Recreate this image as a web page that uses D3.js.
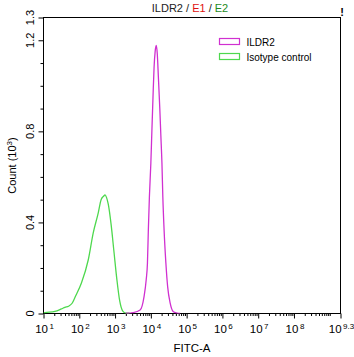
<!DOCTYPE html>
<html>
<head>
<meta charset="utf-8">
<script src="https://cdn.jsdelivr.net/npm/d3@7"></script>
<style>
body { margin: 0; background: #fff; }
svg { font-family: "Liberation Sans", Arial, sans-serif; }
</style>
</head>
<body>
<div id="chart"></div>
<script>
// log10(FITC-A) positions and counts (x10^3)
var isoLog   = [1.0, 1.04, 1.32, 1.5, 1.6, 1.7, 1.8, 1.9, 2.06, 2.25, 2.39, 2.53, 2.61, 2.68, 2.72, 2.76, 2.81, 2.89, 2.97, 3.05, 3.13, 3.21, 3.3, 3.4]
var isoCount = [0.003, 0.004, 0.009, 0.02, 0.027, 0.032, 0.045, 0.078, 0.134, 0.235, 0.354, 0.442, 0.5, 0.515, 0.521, 0.51, 0.48, 0.39, 0.27, 0.15, 0.055, 0.012, 0.002, 0.001]

var ildrLog   = [3.3, 3.51, 3.7, 3.81, 3.87, 3.905, 3.93, 3.96, 4.0, 4.03, 4.06, 4.09, 4.12, 4.15, 4.18, 4.21, 4.25, 4.28, 4.31, 4.335, 4.37, 4.42, 4.47, 4.54, 4.63, 4.73, 4.82]
var ildrCount = [0.001, 0.004, 0.015, 0.074, 0.148, 0.222, 0.367, 0.515, 0.66, 0.807, 0.95, 1.08, 1.15, 1.177, 1.14, 1.04, 0.9, 0.78, 0.66, 0.512, 0.367, 0.222, 0.117, 0.046, 0.008, 0.002, 0.0]

var seriesNames  = ["ILDR2", "Isotype control"]
var seriesColors = ["#d030d0", "#4ed84e"]

var yMajor = [0, 0.4, 0.8, 1.2, 1.3]
var yMinor = [0.1, 0.2, 0.3, 0.5, 0.6, 0.7, 0.9, 1.0, 1.1]
var xMajorExp = [1, 2, 3, 4, 5, 6, 7, 8, 9.3]

var chartW = 354, chartH = 357
var pLeft = 43.5, pRight = 340.5, pTop = 17.5, pBottom = 313.5

var svg = d3.select('#chart')
    .append('svg')
    .attr('width', chartW)
    .attr('height', chartH)

var x = d3.scaleLog()
    .domain([10, Math.pow(10, 9.3)])
    .range([pLeft, pRight])

var y = d3.scaleLinear()
    .domain([0, 1.3])
    .range([pBottom, pTop])

// minor x ticks 2..9 per decade (plus 10^9, which has no label)
var xMinor = []
for (var dec = 1; dec <= 9; dec++) {
    for (var k = 2; k <= 9; k++) {
        var v = k * Math.pow(10, dec)
        if (v < Math.pow(10, 9.3)) xMinor.push(v)
    }
}
xMinor.push(1e9)

// frame
svg.append('rect')
    .attr('x', pLeft).attr('y', pTop)
    .attr('width', pRight - pLeft).attr('height', pBottom - pTop)
    .attr('fill', 'none').attr('stroke', '#000').attr('stroke-width', 1)

// x axis
var xMajorG = svg.append('g')
    .attr('transform', 'translate(0,' + pBottom + ')')
    .call(d3.axisBottom(x)
        .tickValues(xMajorExp.map(function(e){ return Math.pow(10, e) }))
        .tickSize(5)
        .tickFormat(function(){ return '' }))
var xMinorG = svg.append('g')
    .attr('transform', 'translate(0,' + pBottom + ')')
    .call(d3.axisBottom(x)
        .tickValues(xMinor)
        .tickSize(2.5)
        .tickFormat(function(){ return '' }))
xMajorG.select('.domain').remove()
xMinorG.select('.domain').remove()

var xLabels = svg.append('g')
    .selectAll('text')
    .data(xMajorExp)
    .enter()
    .append('text')
    .attr('x', function(d){ return x(Math.pow(10, d)) + 1 })
    .attr('y', 333)
    .attr('text-anchor', 'middle')
    .attr('font-size', 11.5)
xLabels.append('tspan').text('10')
xLabels.append('tspan')
    .attr('dx', 1.5)
    .attr('dy', -4)
    .attr('font-size', 8)
    .text(function(d){ return d })

// y axis
var yMajorG = svg.append('g')
    .attr('transform', 'translate(' + pLeft + ',0)')
    .call(d3.axisLeft(y).tickValues(yMajor).tickSize(5).tickFormat(function(){ return '' }))
var yMinorG = svg.append('g')
    .attr('transform', 'translate(' + pLeft + ',0)')
    .call(d3.axisLeft(y).tickValues(yMinor).tickSize(3).tickFormat(function(){ return '' }))
yMajorG.select('.domain').remove()
yMinorG.select('.domain').remove()

svg.append('g')
    .selectAll('text')
    .data(yMajor)
    .enter()
    .append('text')
    .attr('transform', function(d){ return 'translate(34,' + y(d) + ') rotate(-90)' })
    .attr('text-anchor', 'middle')
    .attr('font-size', 11)
    .text(function(d){ return String(d) })

// axis titles
svg.append('text')
    .attr('x', 192).attr('y', 352)
    .attr('text-anchor', 'middle')
    .attr('font-size', 11.5)
    .text('FITC-A')

var yTitle = svg.append('text')
    .attr('transform', 'translate(16,' + ((pTop + pBottom) / 2) + ') rotate(-90)')
    .attr('text-anchor', 'middle')
    .attr('font-size', 11)
yTitle.append('tspan').text('Count (10')
yTitle.append('tspan').attr('dy', -4).attr('font-size', 8).text('3')
yTitle.append('tspan').attr('dy', 4).text(')')

// title
var title = svg.append('text')
    .attr('x', 190).attr('y', 12)
    .attr('text-anchor', 'middle')
    .attr('font-size', 11)
title.append('tspan').attr('fill', '#222').text('ILDR2')
title.append('tspan').attr('fill', '#222').text(' / ')
title.append('tspan').attr('fill', '#e01010').text('E1')
title.append('tspan').attr('fill', '#222').text(' / ')
title.append('tspan').attr('fill', '#1e8c1e').text('E2')

svg.append('text')
    .attr('x', 342).attr('y', 16)
    .attr('text-anchor', 'middle')
    .attr('font-size', 11)
    .attr('font-weight', 'bold')
    .text('!')

// curves
svg.append('clipPath').attr('id', 'plotClip')
    .append('rect')
    .attr('x', pLeft).attr('y', pTop - 2)
    .attr('width', pRight - pLeft).attr('height', pBottom - pTop + 2)

var line = d3.line()
    .x(function(d){ return x(Math.pow(10, d[0])) })
    .y(function(d){ return y(d[1]) })
    .curve(d3.curveMonotoneX)

var isoData = isoLog.map(function(e, i){ return [e, isoCount[i]] })
var ildrData = ildrLog.map(function(e, i){ return [e, ildrCount[i]] })

var curves = svg.append('g').attr('clip-path', 'url(#plotClip)')
curves.append('path')
    .datum(isoData)
    .attr('d', line)
    .attr('fill', 'none')
    .attr('stroke', seriesColors[1])
    .attr('stroke-width', 1.3)
curves.append('path')
    .datum(ildrData)
    .attr('d', line)
    .attr('fill', 'none')
    .attr('stroke', seriesColors[0])
    .attr('stroke-width', 1.3)

// legend
var legend = svg.append('g')
    .selectAll('g')
    .data(seriesNames)
    .enter()
    .append('g')
    .attr('transform', function(d, i){ return 'translate(219.5,' + (38.5 + i * 15) + ')' })
legend.append('rect')
    .attr('width', 20).attr('height', 6)
    .attr('fill', 'none')
    .attr('stroke', function(d, i){ return seriesColors[i] })
    .attr('stroke-width', 1.2)
legend.append('text')
    .attr('x', 27).attr('y', 7)
    .attr('font-size', 10)
    .text(function(d){ return d })
</script>
</body>
</html>
